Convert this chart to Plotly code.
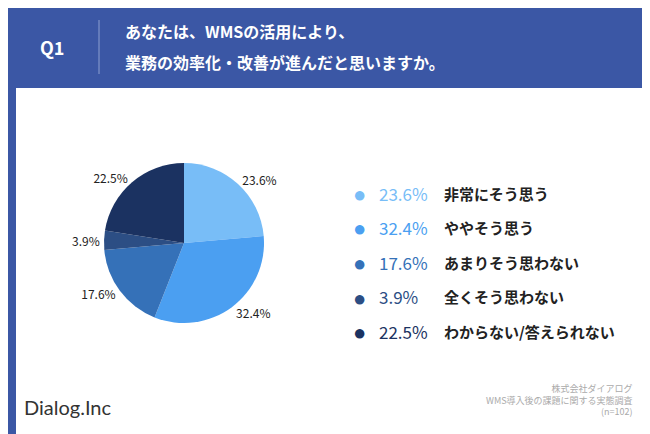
import plotly.graph_objects as go

labels = ["非常にそう思う", "ややそう思う", "あまりそう思わない", "全くそう思わない", "わからない/答えられない"]
values = [23.6, 32.4, 17.6, 3.9, 22.5]
colors = ["#78bdf7", "#4b9ff1", "#3571b8", "#2c4e84", "#1b3261"]

W, H = 650, 434
FONT = "Noto Sans CJK JP"
DY = -8

def px_x(x):
    return x / W

def px_y(y):
    return 1 - (y + DY) / H

fig = go.Figure()
fig.add_trace(go.Pie(
    labels=labels, values=values, sort=False, direction="clockwise", rotation=0,
    marker=dict(colors=colors, line=dict(color="white", width=0)),
    texttemplate="%{value}%", textposition="outside",
    textfont=dict(family=FONT, size=12, color="#222"),
    showlegend=False, hoverinfo="label+value",
    domain=dict(x=[px_x(96), px_x(256)], y=[px_y(323), px_y(163)]),
))

shapes = [
    dict(type="rect", xref="paper", yref="paper", x0=0, x1=1, y0=0, y1=1,
         fillcolor="#3b57a5", line_width=0, layer="below"),
    dict(type="rect", xref="paper", yref="paper", x0=px_x(8), x1=px_x(641),
         y0=px_y(434), y1=px_y(88), fillcolor="white", line_width=0, layer="below"),
    dict(type="line", xref="paper", yref="paper", x0=px_x(91), x1=px_x(91),
         y0=px_y(74), y1=px_y(20), line=dict(color="#8da0d0", width=1)),
]

ann = [
    dict(x=px_x(30), y=px_y(47), text="<b>Q1</b>", font=dict(size=18, color="white", family=FONT),
         xanchor="left"),
    dict(x=px_x(115), y=px_y(31), text="<b>あなたは、WMSの活用により、</b>",
         font=dict(size=16, color="white", family=FONT), xanchor="left"),
    dict(x=px_x(115), y=px_y(62), text="<b>業務の効率化・改善が進んだと思いますか。</b>",
         font=dict(size=16, color="white", family=FONT), xanchor="left"),
    dict(x=px_x(14), y=px_y(407), text="Dialog.Inc", font=dict(size=20, color="#333", family="Lato"),
         xanchor="left"),
    dict(x=px_x(627), y=px_y(400), text="株式会社ダイアログ<br>WMS導入後の課題に関する実態調査<br>(n=102)",
         font=dict(size=9, color="#aaa", family=FONT), xanchor="right", align="right"),
]
for i, (lab, val, col) in enumerate(zip(labels, values, colors)):
    y = px_y(193 + i * 34.5)
    ann.append(dict(x=px_x(343), y=y, text="●", font=dict(size=22, color=col), xanchor="left"))
    ann.append(dict(x=px_x(369), y=y, text=f"{val}%", font=dict(size=17, color=col, family=FONT),
                    xanchor="left"))
    ann.append(dict(x=px_x(434), y=y, text=f"<b>{lab}</b>", font=dict(size=15, color="#222", family=FONT),
                    xanchor="left"))
for a in ann:
    a.update(xref="paper", yref="paper", showarrow=False, yanchor="middle")

fig.update_layout(width=W, height=H, margin=dict(l=0, r=0, t=0, b=0),
                  paper_bgcolor="#3b57a5", shapes=shapes, annotations=ann)
fig.write_html("out.html")
